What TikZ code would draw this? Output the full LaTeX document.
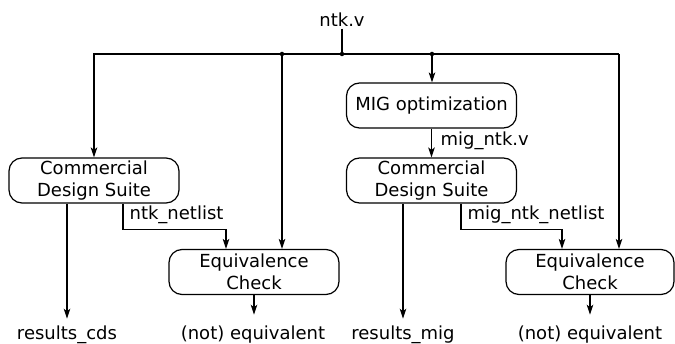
\documentclass[tikz,border=0pt]{standalone}
\usepackage{fontspec}
\setmainfont{DejaVu Sans}
\usetikzlibrary{arrows.meta}

\begin{document}
\begin{tikzpicture}[x=1pt, y=-1pt, line width=1.2pt,
    proc/.style={draw, rounded corners=13pt, align=center, inner sep=0pt,
        minimum width=170pt, minimum height=45pt, font=\fontsize{18}{22}\selectfont},
    lbl/.style={inner sep=1pt, font=\fontsize{18}{22}\selectfont},
    arr/.style={-{Stealth[length=10pt, width=6.5pt, inset=2.5pt]}},
    joint/.style={circle, fill, inner sep=0pt, minimum size=4.5pt}]
\useasboundingbox (0,0) rectangle (675,344);

% boxes
\node[lbl, anchor=base] (ntk) at (342,27) {ntk.v};
\node[proc] (mig) at (431.5,105.5) {MIG optimization};
\node[proc] (cdsA) at (94,180.5) {Commercial\\Design Suite};
\node[proc] (cdsB) at (431.5,180.5) {Commercial\\Design Suite};
\node[proc] (eqA) at (254,272) {Equivalence\\Check};
\node[proc, minimum width=168pt] (eqB) at (590,272) {Equivalence\\Check};

% outputs
\node[lbl, anchor=base] (resA) at (67,340) {results\_cds};
\node[lbl, anchor=base] (notA) at (253,340) {(not) equivalent};
\node[lbl, anchor=base] (resB) at (403,340) {results\_mig};
\node[lbl, anchor=base] (notB) at (590,340) {(not) equivalent};

% labels
\node[lbl, anchor=base west] (migv) at (439,146) {mig\_ntk.v};
\node[lbl, anchor=base west] (netA) at (128,220) {ntk\_netlist};
\node[lbl, anchor=base west] (netB) at (466,220) {mig\_ntk\_netlist};

% fan out of ntk.v
\node[joint] (jA) at (282,54) {};
\node[joint] (jB) at (342,54) {};
\node[joint] (jC) at (432,54) {};
\coordinate (eR) at (619,54);

\draw (ntk) -- (jB.center);
\draw (jA.center) -- (eR);
\draw[arr] (jA.center) -| (cdsA.north);
\draw[arr] (jA.center) -- (jA |- eqA.north);
\draw[arr] (jC.center) -- (mig.north -| jC);
\draw[arr] (eR) -- (eR |- eqB.north);

% flow
\draw[arr] (mig) -- (cdsB);
\draw[arr] ([xshift=29pt]cdsA.south) -- ++(0,26) -| ([xshift=-28pt]eqA.north);
\draw[arr] ([xshift=29.5pt]cdsB.south) -- ++(0,26) -| ([xshift=-28pt]eqB.north);
\draw[arr, shorten >=6pt] (cdsA.south -| resA) -- (resA.north);
\draw[arr, shorten >=6pt] (cdsB.south -| resB) -- (resB.north);
\draw[arr, shorten >=10pt] (eqA) -- (eqA.south |- notA.north);
\draw[arr, shorten >=10pt] (eqB) -- (eqB.south |- notB.north);
\end{tikzpicture}
\end{document}
